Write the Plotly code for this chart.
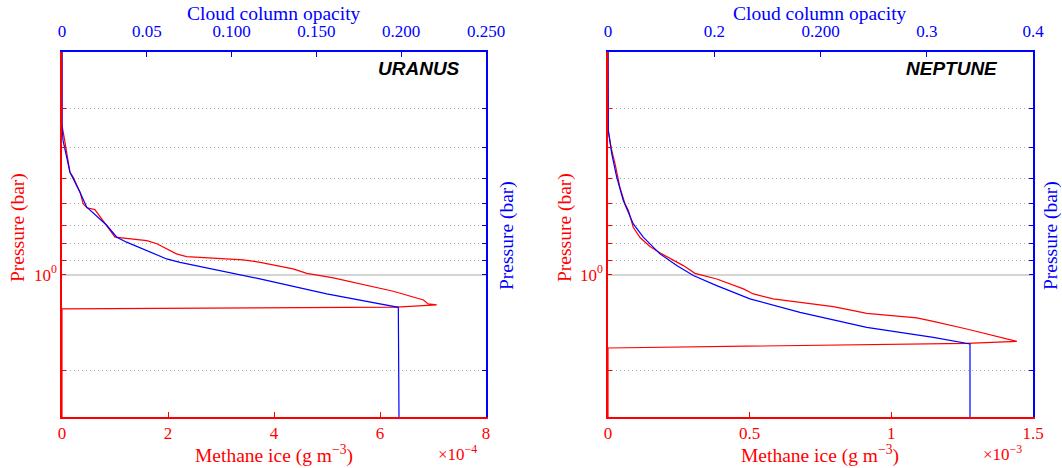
import math
import plotly.graph_objects as go

W, H = 1062, 468

# ---------------- data ----------------
# Uranus: methane ice (units of 1e-4 g m^-3) vs pressure (bar)
ura_ice_p = [0.2, 0.34, 0.37, 0.477, 0.494, 0.551, 0.599, 0.617, 0.625, 0.70, 0.727, 0.763,
             0.782, 0.80, 0.861, 0.878, 0.899, 0.915, 0.96, 0.991, 1.024, 1.128, 1.201, 1.236,
             1.245, 1.265, 1.282, 2.8]
ura_ice = [0, 0, 0.04, 0.15, 0.21, 0.34, 0.40, 0.47, 0.62, 0.84, 0.91, 1.0,
           1.60, 1.79, 2.16, 2.35, 3.42, 3.74, 4.36, 4.62, 5.12, 6.25, 6.82, 6.91,
           7.07, 6.3, 0, 0]
# Uranus: cloud column opacity vs pressure
ura_op_p = [0.2, 0.34, 0.379, 0.477, 0.551, 0.614, 0.70, 0.763, 0.791, 0.893, 0.915, 1.032,
            1.15, 1.26, 1.267, 2.8]
ura_op = [0, 0, 0.0006, 0.0047, 0.0106, 0.0146, 0.0264, 0.0323, 0.0381, 0.0617, 0.0696, 0.1167,
          0.1561, 0.1953, 0.1983, 0.1987]

# Neptune: methane ice (units of 1e-3 g m^-3) vs pressure
nep_ice_p = [0.2, 0.352, 0.407, 0.449, 0.532, 0.599, 0.629, 0.710, 0.765, 0.816, 0.861, 0.899,
             0.937, 0.991, 1.032, 1.109, 1.15, 1.192, 1.26, 1.298, 1.323, 1.368, 1.402, 1.482,
             1.575, 1.605, 1.621, 1.644, 1.70, 2.8]
nep_ice = [0, 0, 0.013, 0.025, 0.042, 0.060, 0.072, 0.089, 0.113, 0.148, 0.190, 0.230,
           0.266, 0.307, 0.384, 0.478, 0.513, 0.583, 0.795, 0.866, 0.913, 1.090, 1.148, 1.266,
           1.384, 1.413, 1.443, 1.266, 0, 0]
# Neptune: cloud column opacity vs pressure
nep_op_p = [0.2, 0.352, 0.417, 0.494, 0.585, 0.693, 0.763, 0.861, 0.937, 1.007, 1.083, 1.192,
            1.314, 1.465, 1.575, 1.644, 1.651, 2.8]
nep_op = [0, 0.0003, 0.0035, 0.0082, 0.0144, 0.0238, 0.0332, 0.0489, 0.0647, 0.0803, 0.1023, 0.1336,
          0.1807, 0.2435, 0.3062, 0.3376, 0.3407, 0.3407]

# tick labels
ura_ice_tickvals = [0, 2, 4, 6, 8]
ura_ice_ticktext = ["0", "2", "4", "6", "8"]
ura_op_tickvals = [0, 0.05, 0.10, 0.15, 0.20, 0.25]
ura_op_ticktext = ["0", "0.05", "0.100", "0.150", "0.200", "0.250"]
nep_ice_tickvals = [0, 0.5, 1, 1.5]
nep_ice_ticktext = ["0", "0.5", "1", "1.5"]
nep_op_tickvals = [0, 0.1, 0.2, 0.3, 0.4]
nep_op_ticktext = ["0", "0.2", "0.200", "0.3", "0.4"]
p_major_vals = [1]
p_major_text = ["10<sup>0</sup>"]
p_minor_vals = [0.3, 0.4, 0.5, 0.6, 0.7, 0.8, 0.9, 2]
P_RANGE = (0.2, 2.8)

# ---------------- styling ----------------
RED = "#ff0000"
BLUE = "#0000ff"
SERIF = "Liberation Serif"
TICK_FS = 17
TITLE_FS = 19.5

yr = [math.log10(P_RANGE[1]), math.log10(P_RANGE[0])]


def px_x(px):
    return px / W


def px_y(py):
    return 1 - py / H


fig = go.Figure()

fig.add_trace(go.Scatter(x=[v * 1e-4 for v in ura_ice], y=ura_ice_p, mode="lines",
                         line=dict(color=RED, width=1.2), xaxis="x", yaxis="y",
                         name="Uranus methane ice", showlegend=False))
fig.add_trace(go.Scatter(x=ura_op, y=ura_op_p, mode="lines",
                         line=dict(color=BLUE, width=1.2), xaxis="x2", yaxis="y2",
                         name="Uranus cloud opacity", showlegend=False))
fig.add_trace(go.Scatter(x=[v * 1e-3 for v in nep_ice], y=nep_ice_p, mode="lines",
                         line=dict(color=RED, width=1.2), xaxis="x3", yaxis="y3",
                         name="Neptune methane ice", showlegend=False))
fig.add_trace(go.Scatter(x=nep_op, y=nep_op_p, mode="lines",
                         line=dict(color=BLUE, width=1.2), xaxis="x4", yaxis="y4",
                         name="Neptune cloud opacity", showlegend=False))

dom_l = [62 / W, 486 / W]
dom_r = [608 / W, 1033 / W]
dom_y = [1 - 417 / H, 1 - 52 / H]


def xax(domain, color, rng, tickvals, ticktext, side, anchor, overlaying=None, standoff=0):
    d = dict(domain=domain, range=rng, side=side, anchor=anchor,
             showline=True, linecolor=color, linewidth=1.5,
             ticks="inside", ticklen=5, tickcolor=color, tickwidth=1,
             tickvals=tickvals, ticktext=ticktext, ticklabelstandoff=standoff,
             tickfont=dict(family=SERIF, size=TICK_FS, color=color),
             showgrid=False, zeroline=False, automargin=False, fixedrange=True)
    if overlaying:
        d["overlaying"] = overlaying
        d.pop("domain")
    return d


def yax(color, side, anchor, showlabels, grid, overlaying=None):
    d = dict(domain=dom_y, type="log", range=yr, side=side, anchor=anchor,
             showline=True, linecolor=color, linewidth=1.5,
             ticks="inside", ticklen=4, tickcolor=color, tickwidth=1,
             tickvals=p_major_vals, ticktext=p_major_text, showticklabels=showlabels,
             tickfont=dict(family=SERIF, size=TICK_FS, color=color),
             showgrid=grid, gridcolor="#d4d4d4", gridwidth=1.5,
             minor=dict(tickvals=p_minor_vals, ticks="inside", ticklen=4,
                        tickcolor=color, tickwidth=1,
                        showgrid=grid, gridcolor="#a8a8a8", gridwidth=1,
                        griddash="1px,3px"),
             zeroline=False, automargin=False, fixedrange=True)
    if overlaying:
        d["overlaying"] = overlaying
        d.pop("domain")
    return d


fig.update_layout(
    width=W, height=H,
    margin=dict(l=0, r=0, t=0, b=0),
    paper_bgcolor="white", plot_bgcolor="white",
    showlegend=False,
    xaxis=xax(dom_l, RED, [0, 8e-4], [v * 1e-4 for v in ura_ice_tickvals],
              ura_ice_ticktext, "bottom", "y"),
    xaxis2=xax(dom_l, BLUE, [0, 0.25], ura_op_tickvals, ura_op_ticktext, "top", "y2",
               overlaying="x", standoff=6),
    yaxis=yax(RED, "left", "x", True, True),
    yaxis2=yax(BLUE, "right", "x2", False, False, overlaying="y"),
    xaxis3=xax(dom_r, RED, [0, 1.5e-3], [v * 1e-3 for v in nep_ice_tickvals],
               nep_ice_ticktext, "bottom", "y3"),
    xaxis4=xax(dom_r, BLUE, [0, 0.4], nep_op_tickvals, nep_op_ticktext, "top", "y4",
               overlaying="x3", standoff=6),
    yaxis3=yax(RED, "left", "x3", True, True),
    yaxis4=yax(BLUE, "right", "x4", False, False, overlaying="y3"),
)


def ann(text, px, py, color, size=TITLE_FS, angle=0, family=SERIF, xanchor="center"):
    fig.add_annotation(text=text, x=px_x(px), y=px_y(py), xref="paper", yref="paper",
                       showarrow=False, xanchor=xanchor, yanchor="middle", textangle=angle,
                       font=dict(family=family, size=size, color=color))


# axis titles
for cx in (274, 820):
    ann("Cloud column opacity", cx, 13, BLUE)
    ann("Methane ice (g m<sup>\u22123</sup>)", cx, 454, RED)
ann("\u00d710<sup>\u22124</sup>", 457, 453, RED, size=TICK_FS)
ann("\u00d710<sup>\u22123</sup>", 1002, 453, RED, size=TICK_FS)
ann("Pressure (bar)", 18, 228, RED, angle=-90)
ann("Pressure (bar)", 507, 236, BLUE, angle=-90)
ann("Pressure (bar)", 565, 228, RED, angle=-90)
ann("Pressure (bar)", 1051, 236, BLUE, angle=-90)

# planet labels
ann("<b><i>URANUS</i></b>", 462, 68, "black", size=19, family="Liberation Sans", xanchor="right")
ann("<b><i>NEPTUNE</i></b>", 1000, 68, "black", size=19, family="Liberation Sans", xanchor="right")

fig.write_html("out.html")
